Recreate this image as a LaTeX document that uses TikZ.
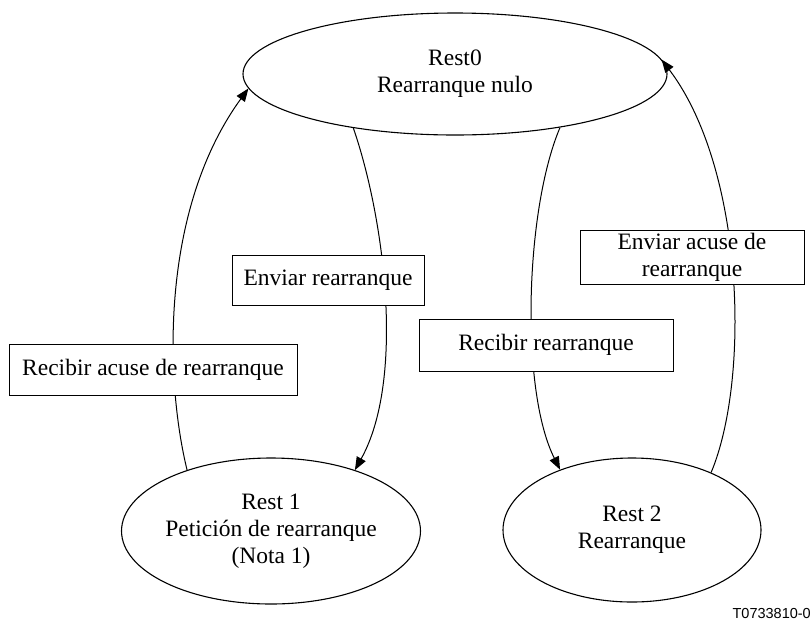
\documentclass[tikz,border=0pt]{standalone}
\usepackage{fontspec}
\setmainfont{Liberation Serif}
\newfontfamily\figidfont{Liberation Sans}
\usetikzlibrary{shapes.geometric,arrows.meta}

\tikzset{
  state/.style={ellipse, draw, line width=1.1pt, inner sep=0pt, align=center,
    font=\fontsize{23.5}{27}\selectfont},
  event/.style={rectangle, draw, line width=1pt, fill=white, inner sep=0pt, align=center,
    font=\fontsize{23.5}{27}\selectfont},
  trans/.style={line width=1pt, -{Triangle[length=13pt,width=10pt]}},
}

\begin{document}
\begin{tikzpicture}[x=1pt,y=-1pt]
  \useasboundingbox (0,0) rectangle (811,625);

  % states
  \node[state, minimum width=424pt, minimum height=122pt] (r0) at (455,74)
    {Rest0\\Rearranque nulo};
  \node[state, minimum width=222pt, minimum height=146pt] (r1) at (271,531)
    {Rest 1\\Petición de rearranque\\(Nota 1)};
  \node[state, minimum width=258pt, minimum height=144pt] (r2) at (632,530)
    {Rest 2\\Rearranque};

  % transitions
  \draw[trans] (r1.144) .. controls (165,380) and (160,210) .. (r0.184);
  \draw[trans] (r0.208) .. controls (385,220) and (405,380) .. (r1.36);
  \draw[trans] (r0.333) .. controls (525,210) and (520,390) .. (r2.140);
  \draw[trans] (r2.36) .. controls (750,380) and (745,170) .. (r0.4);

  % event labels on the transitions
  \node[event, minimum width=288pt, minimum height=51pt] (ev1) at (153,369.5)
    {Recibir acuse de rearranque};
  \node[event, minimum width=192pt, minimum height=50pt] (ev2) at (328,280)
    {Enviar rearranque};
  \node[event, minimum width=254pt, minimum height=52pt] (ev3) at (546,345)
    {Recibir rearranque};
  \node[event, minimum width=224pt, minimum height=54pt] (ev4) at (692,257)
    {Enviar acuse de\\rearranque};

  % figure identifier
  \node[anchor=east, inner sep=0pt, font=\figidfont\fontsize{14.5}{16}\selectfont]
    (figid) at (811,613) {T0733810-0};
\end{tikzpicture}
\end{document}
